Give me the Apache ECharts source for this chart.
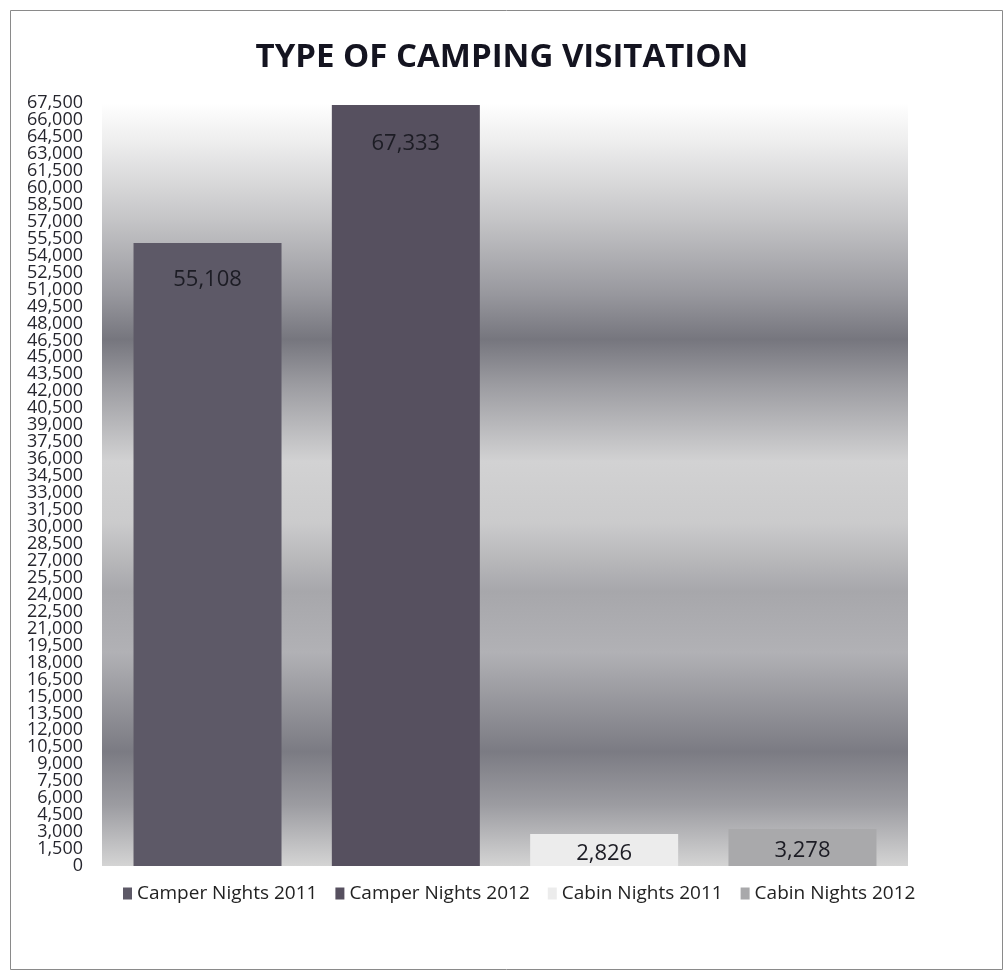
<!DOCTYPE html>
<html><head><meta charset="utf-8">
<script src="https://cdn.jsdelivr.net/npm/echarts@6/dist/echarts.min.js"></script>
<style>html,body{margin:0;padding:0;background:#fff}#c{width:1004px;height:971px}</style>
</head><body><div id="c"></div>
<script>
const categories = ['Visitation'];
const seriesNames = ['Camper Nights 2011', 'Camper Nights 2012', 'Cabin Nights 2011', 'Cabin Nights 2012'];
const camper2011 = [55108];
const camper2012 = [67333];
const cabin2011 = [2826];
const cabin2012 = [3278];
const yMin = 0, yMax = 67500, yStep = 1500;

const colors = ['#5d5967', '#56505f', '#ececec', '#a9a9ab'];
const values = [camper2011, camper2012, cabin2011, cabin2012];
const labelDist = [26, 28, 9, 11];
const FONT = '"Open Sans", sans-serif';

const fmt = v => v.toLocaleString('en-US');
const labelStyle = { fontFamily: FONT, fontSize: 18, color: '#26262e', margin: 19 };

const chart = echarts.init(document.getElementById('c'));
chart.setOption({
  backgroundColor: '#fff',
  animation: false,
  title: {
    text: 'TYPE OF CAMPING VISITATION',
    left: 'center', top: 36,
    textStyle: { fontFamily: FONT, fontWeight: 'bold', fontSize: 33, color: '#141420' }
  },
  graphic: [{
    type: 'rect', left: 8, top: 8, silent: true,
    shape: { width: 992, height: 959 },
    style: { fill: 'none', stroke: '#8a8a8a', lineWidth: 1 }
  }],
  legend: {
    data: seriesNames, bottom: 63, left: 118,
    itemWidth: 9, itemHeight: 12, itemGap: 18,
    icon: 'rect',
    textStyle: { fontFamily: FONT, fontSize: 19, color: '#222' }
  },
  grid: {
    left: 102, right: 96, top: 103, bottom: 105, show: true, borderWidth: 0,
    backgroundColor: {
      type: 'linear', x: 0, y: 0, x2: 0, y2: 1,
      colorStops: [
        { offset: 0.0, color: '#ffffff' },
        { offset: 0.05, color: '#eeeeee' },
        { offset: 0.15, color: '#c6c6c8' },
        { offset: 0.25, color: '#98989e' },
        { offset: 0.31, color: '#76767e' },
        { offset: 0.37, color: '#9c9ca1' },
        { offset: 0.47, color: '#d2d2d3' },
        { offset: 0.55, color: '#cbcbcc' },
        { offset: 0.64, color: '#a7a7ab' },
        { offset: 0.72, color: '#b1b1b5' },
        { offset: 0.85, color: '#7b7b83' },
        { offset: 0.92, color: '#9c9ca1' },
        { offset: 1.0, color: '#d4d4d4' }
      ]
    }
  },
  xAxis: {
    type: 'category', data: categories,
    axisLine: { show: false }, axisTick: { show: false }, axisLabel: { show: false }
  },
  yAxis: [{
    type: 'value', min: yMin, max: yMax, interval: yStep,
    axisLine: { show: false }, axisTick: { show: false }, splitLine: { show: false },
    axisLabel: Object.assign({ showMinLabel: false, showMaxLabel: false, formatter: fmt }, labelStyle)
  }, {
    type: 'value', position: 'left', min: yMin, max: yMax, interval: yStep,
    axisLine: { show: false }, axisTick: { show: false }, splitLine: { show: false },
    axisLabel: Object.assign({
      showMinLabel: true, showMaxLabel: true,
      formatter: v => (v === yMin || v === yMax) ? fmt(v) : ''
    }, labelStyle)
  }],
  series: seriesNames.map((n, i) => ({
    name: n, type: 'bar', data: values[i],
    barWidth: 148, barGap: '34%',
    itemStyle: { color: colors[i] },
    label: {
      show: true, position: 'insideTop', distance: labelDist[i],
      fontFamily: FONT, fontSize: 22, color: '#1c1c24',
      formatter: p => p.value.toLocaleString('en-US')
    }
  }))
});
</script></body></html>
